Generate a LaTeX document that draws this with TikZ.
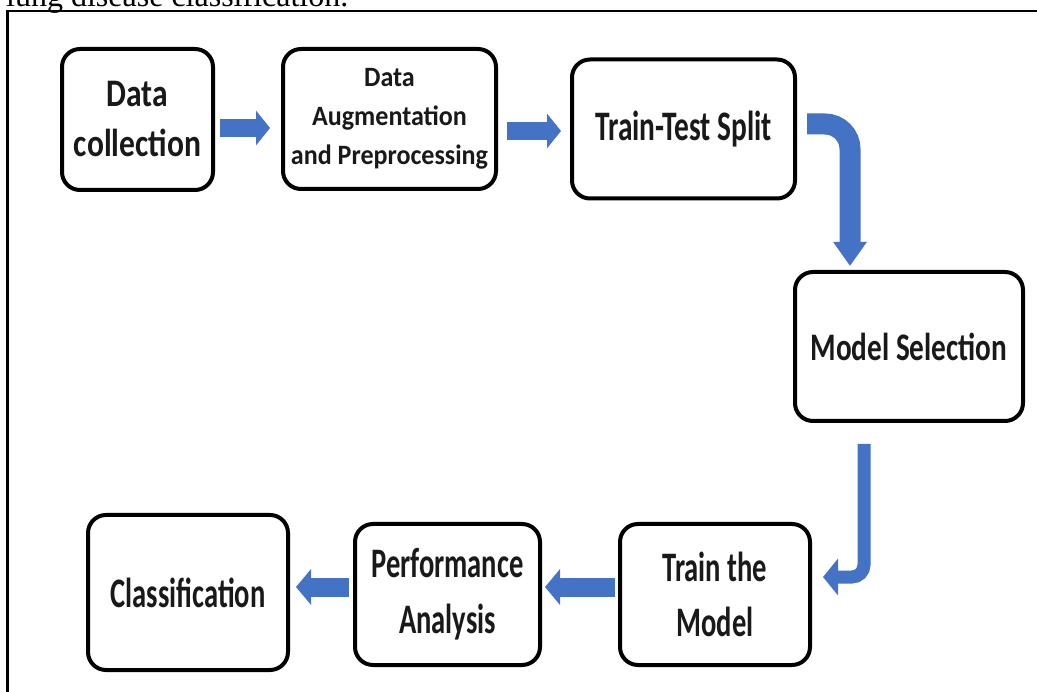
\documentclass[tikz,border=0pt]{standalone}
\usepackage{fontspec}
\usetikzlibrary{arrows.meta,calc}
\newfontfamily\serifttl{Liberation Serif}
\newcommand{\boxfont}[3]{\fontspec[FakeStretch=#1]{Carlito}\bfseries\fontsize{#2}{#3}\selectfont}
\definecolor{arrowblue}{HTML}{4472C4}
\tikzset{
  stage/.style={draw=black, line width=4pt, rounded corners=18pt, fill=white, align=center, inner sep=0pt, text=black!90},
  blockarrow/.style={draw=arrowblue, line width=#1},
  bhead/.style n args={2}{-{Triangle[width=#1 0 0, length=#2 0 0]}}
}
\begin{document}
\begin{tikzpicture}[x=1pt,y=-1pt]
\useasboundingbox (0,0) rectangle (1037,692);
\clip (0,0) rectangle (1037,692);
% partial caption text at the top
\node[anchor=base west, inner sep=0pt, font=\serifttl\fontsize{32}{36}\selectfont] (caption) at (6,7) {lung disease classification.};
% frame
\draw[line width=2.5pt] (7.5,700) -- (7.5,11) -- (1045,11);
% stages
\node[stage, minimum width=151pt, minimum height=141pt, font=\boxfont{0.81}{39}{50}] (b1) at (137.5,119.5) {Data\\collection};
\node[stage, minimum width=213pt, minimum height=140pt, font=\boxfont{0.93}{28}{39}] (b2) at (389.5,119) {Data\\Augmentation\\and Preprocessing};
\node[stage, minimum width=223pt, minimum height=139pt, font=\boxfont{0.7}{42}{50}] (b3) at (683.5,129) {Train-Test Split};
\node[stage, minimum width=228pt, minimum height=149pt, font=\boxfont{0.75}{39}{50}] (b4) at (909,346.5) {Model Selection};
\node[stage, minimum width=190pt, minimum height=141pt, font=\boxfont{0.68}{42}{55}] (b5) at (715,594.5) {Train the\\Model};
\node[stage, minimum width=185pt, minimum height=141pt, font=\boxfont{0.68}{42}{56}] (b6) at (447.5,594.5) {Performance\\Analysis};
\node[stage, minimum width=200pt, minimum height=155pt, font=\boxfont{0.68}{42}{50}] (b7) at (188,592.5) {Classification};
% connectors
\draw[blockarrow=18pt, bhead={34pt}{14pt}, arrowblue] ($(b1.east)+(5,8.5)$) -- ($(b2.west)+(-11,9)$);
\draw[blockarrow=18pt, bhead={34pt}{14pt}, arrowblue] ($(b2.east)+(9,12)$) -- ($(b3.west)+(-9,2)$);
\draw[blockarrow=21pt, bhead={32pt}{24pt}, arrowblue, rounded corners=25pt] ($(b3.east)+(10,-5)$) -| ($(b4.north)+(-59,-4)$);
\draw[blockarrow=13pt, bhead={36pt}{15pt}, arrowblue, rounded corners=12pt] ($(b4.south)+(-45,21)$) |- ($(b5.east)+(11,-17.5)$);
\draw[blockarrow=19pt, bhead={35pt}{15pt}, arrowblue] ($(b5.west)+(-3,-7.5)$) -- ($(b6.east)+(3,-7.5)$);
\draw[blockarrow=19pt, bhead={35pt}{15pt}, arrowblue] ($(b6.west)+(-4,-7.5)$) -- ($(b7.east)+(6,-5.5)$);
\end{tikzpicture}
\end{document}
